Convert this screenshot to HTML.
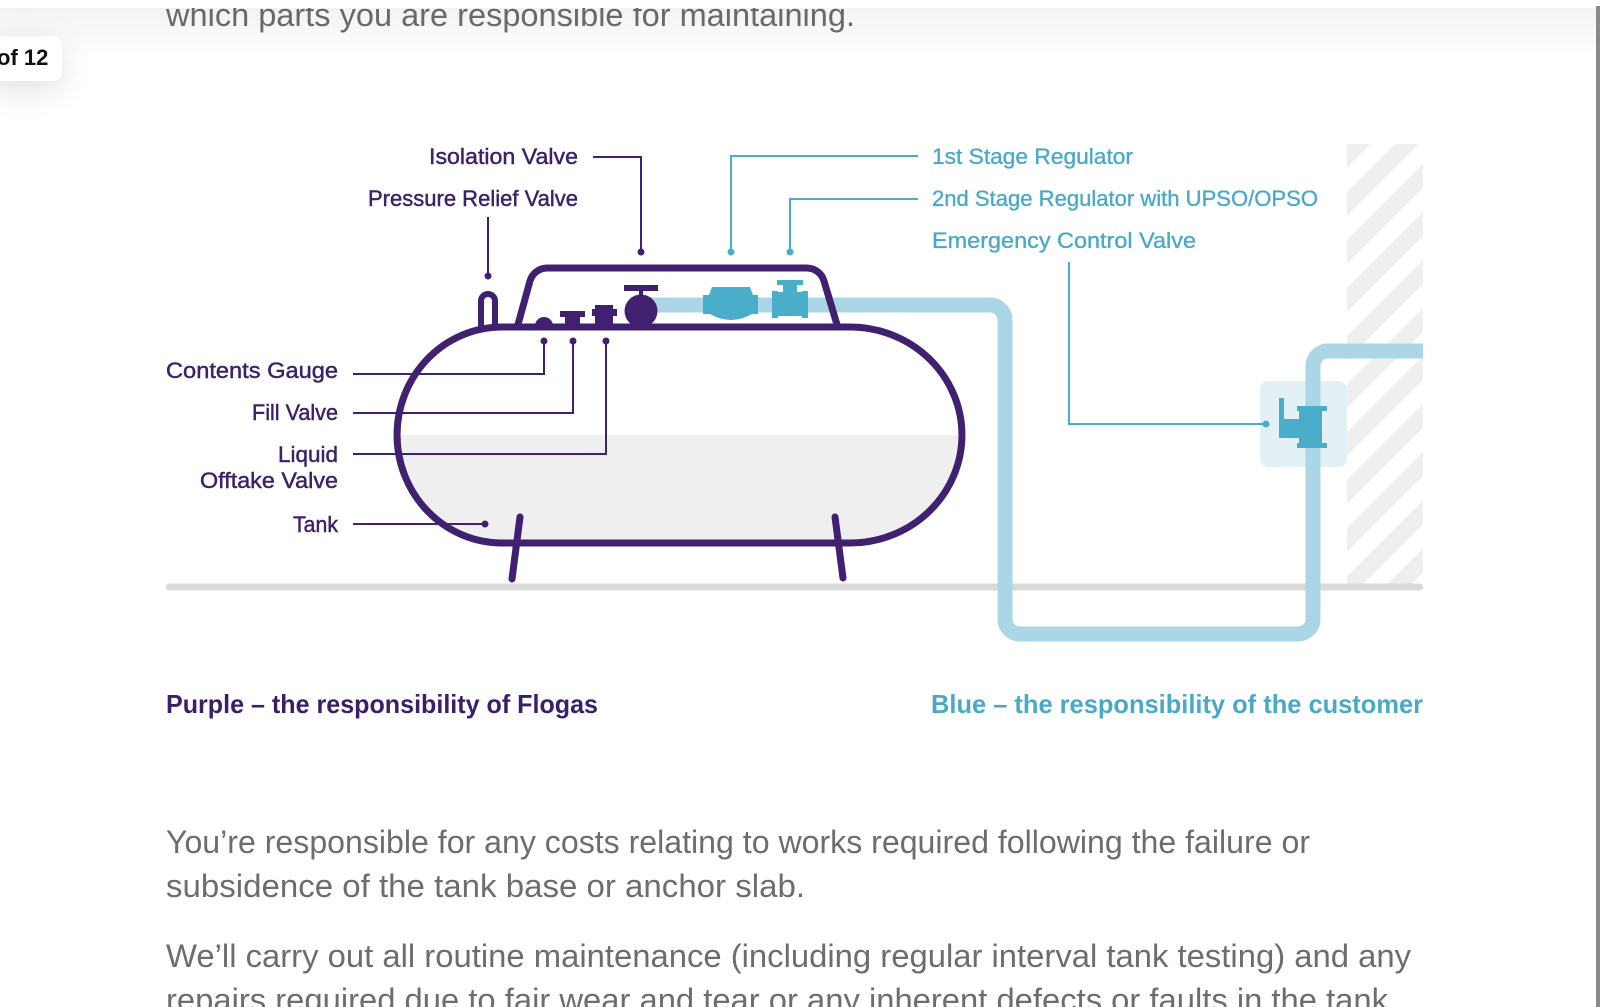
<!DOCTYPE html>
<html>
<head>
<meta charset="utf-8">
<style>
  html,body{margin:0;padding:0;background:#fff;}
  body{width:1600px;height:1007px;position:relative;overflow:hidden;font-family:"Liberation Sans",sans-serif;}
  svg{position:absolute;left:0;top:0;}
  .badge{position:absolute;left:-14px;top:36px;width:76px;height:45px;background:#fff;border-radius:9px;
    box-shadow:0 8px 32px rgba(0,0,0,0.13);}
  .badge span{position:absolute;left:11px;top:10px;font-weight:bold;font-size:22px;color:#111;line-height:24px;white-space:nowrap;}
</style>
</head>
<body>
<svg width="1600" height="1007" viewBox="0 0 1600 1007" xmlns="http://www.w3.org/2000/svg">
  <defs>
    <pattern id="hatch" width="34" height="34" patternUnits="userSpaceOnUse" patternTransform="rotate(45)">
      <rect x="0" y="0" width="17" height="34" fill="#efefef"/>
    </pattern>
    <linearGradient id="topshadow" x1="0" y1="0" x2="0" y2="1">
      <stop offset="0" stop-color="#000" stop-opacity="0.05"/>
      <stop offset="1" stop-color="#000" stop-opacity="0"/>
    </linearGradient>
  </defs>

  <!-- top paragraph remnant -->
  <text x="166" y="26" font-size="32" fill="#6d6d6d" textLength="689" lengthAdjust="spacingAndGlyphs" font-family="Liberation Sans, sans-serif">which parts you are responsible for maintaining.</text>

  <!-- hatched wall -->
  <rect x="1347" y="144" width="76" height="440" fill="url(#hatch)"/>

  <!-- ground -->
  <rect x="166" y="583.5" width="1257" height="7" rx="3.5" fill="#dadada"/>

  <!-- ECV box -->
  <rect x="1260" y="381" width="87" height="86" rx="8" fill="#e3f1f7"/>

  <!-- pipe -->
  <path d="M650,305 H990 A15,15 0 0 1 1005,320 V619 A15,15 0 0 0 1020,634 H1298 A15,15 0 0 0 1313,619 V366 A15,15 0 0 1 1328,351 H1423"
        fill="none" stroke="#abd6e6" stroke-width="15"/>

  <!-- tank liquid -->
  <path d="M397,435 A105,108 0 0 0 502,543 L850,543 A112,108 0 0 0 962,435 Z" fill="#efefef"/>

  <!-- tank outline -->
  <path d="M502,327 L850,327 A112,108 0 0 1 850,543 L502,543 A105,108 0 0 1 502,327 Z"
        fill="none" stroke="#3f2170" stroke-width="7"/>

  <!-- legs -->
  <line x1="520" y1="517" x2="512" y2="579" stroke="#3f2170" stroke-width="7" stroke-linecap="round"/>
  <line x1="835" y1="517" x2="843" y2="578" stroke="#3f2170" stroke-width="7" stroke-linecap="round"/>

  <!-- pressure relief valve bump -->
  <path d="M481,330 V301 A7,7 0 0 1 495,301 V328" fill="none" stroke="#3f2170" stroke-width="6"/>

  <!-- dome -->
  <path d="M517,328 L530,281 A18,18 0 0 1 547,268 L807,268 A18,18 0 0 1 824,281 L838,328"
        fill="none" stroke="#3f2170" stroke-width="7" stroke-linejoin="round"/>

  <!-- purple components -->
  <path d="M535,326 A9,9 0 0 1 553,326 Z" fill="#3f2170"/>
  <rect x="560" y="311" width="25" height="6" fill="#3f2170"/>
  <rect x="565" y="311" width="15" height="16" fill="#3f2170"/>
  <rect x="595" y="305" width="18" height="22" fill="#3f2170"/>
  <rect x="592" y="309" width="25" height="7" fill="#3f2170"/>
  <rect x="624" y="285" width="34" height="6" fill="#3f2170"/>
  <rect x="639" y="285" width="4" height="14" fill="#3f2170"/>
  <circle cx="641" cy="311" r="16.5" fill="#3f2170"/>

  <!-- blue components -->
  <path d="M712,287 L750,287 L753,295 L758,295 L758,314 L752,314 Q731,326 710,314 L703,314 L703,295 L709,295 Z" fill="#4aaecb"/>
  <rect x="777" y="280" width="26" height="5" fill="#4aaecb"/>
  <rect x="783" y="283" width="14" height="10" fill="#4aaecb"/>
  <rect x="777" y="292" width="26" height="24" fill="#4aaecb"/>
  <rect x="772" y="291" width="6" height="27" fill="#4aaecb"/>
  <rect x="802" y="291" width="6" height="27" fill="#4aaecb"/>

  <!-- ECV valve -->
  <rect x="1279" y="398" width="5" height="40" fill="#4aaecb"/>
  <rect x="1279" y="419" width="30" height="19" fill="#4aaecb"/>
  <rect x="1299" y="408" width="23" height="40" fill="#4aaecb"/>
  <rect x="1297" y="406" width="30" height="5" fill="#4aaecb"/>
  <rect x="1297" y="443" width="30" height="5" fill="#4aaecb"/>

  <!-- purple leaders -->
  <g fill="none" stroke="#3f2170" stroke-width="2">
    <path d="M593,157 H641 V252"/>
    <path d="M488,217 V276"/>
    <path d="M353,374 H544 V341"/>
    <path d="M353,413 H573 V341"/>
    <path d="M353,454 H606 V341"/>
    <path d="M353,524 H485"/>
  </g>
  <g fill="#3f2170">
    <circle cx="641" cy="252" r="3.5"/>
    <circle cx="488" cy="276" r="3.5"/>
    <circle cx="544" cy="341" r="3.5"/>
    <circle cx="573" cy="341" r="3.5"/>
    <circle cx="606" cy="341" r="3.5"/>
    <circle cx="485" cy="524" r="3.5"/>
  </g>

  <!-- blue leaders -->
  <g fill="none" stroke="#4aaecb" stroke-width="2">
    <path d="M918,156 H731 V252"/>
    <path d="M918,199 H790 V252"/>
    <path d="M1069,262 V424 H1266"/>
  </g>
  <g fill="#4aaecb">
    <circle cx="731" cy="252" r="3.5"/>
    <circle cx="790" cy="252" r="3.5"/>
    <circle cx="1266" cy="424" r="3.5"/>
  </g>

  <!-- purple labels -->
  <g font-family="Liberation Sans, sans-serif" font-size="22" fill="#3c2266" stroke="#3c2266" stroke-width="0.45">
    <text x="429" y="164" textLength="149" lengthAdjust="spacingAndGlyphs">Isolation Valve</text>
    <text x="368" y="206" textLength="210" lengthAdjust="spacingAndGlyphs">Pressure Relief Valve</text>
    <text x="166" y="378" textLength="172" lengthAdjust="spacingAndGlyphs">Contents Gauge</text>
    <text x="252" y="420" textLength="86" lengthAdjust="spacingAndGlyphs">Fill Valve</text>
    <text x="278" y="462" textLength="60" lengthAdjust="spacingAndGlyphs">Liquid</text>
    <text x="200" y="488" textLength="138" lengthAdjust="spacingAndGlyphs">Offtake Valve</text>
    <text x="293" y="532" textLength="45" lengthAdjust="spacingAndGlyphs">Tank</text>
  </g>

  <!-- blue labels -->
  <g font-family="Liberation Sans, sans-serif" font-size="22" fill="#4aaac6" stroke="#4aaac6" stroke-width="0.35">
    <text x="932" y="164" textLength="201" lengthAdjust="spacingAndGlyphs">1st Stage Regulator</text>
    <text x="932" y="206" textLength="386" lengthAdjust="spacingAndGlyphs">2nd Stage Regulator with UPSO/OPSO</text>
    <text x="932" y="248" textLength="264" lengthAdjust="spacingAndGlyphs">Emergency Control Valve</text>
  </g>

  <!-- legend -->
  <text x="166" y="713" font-family="Liberation Sans, sans-serif" font-weight="bold" font-size="26" fill="#3b2068" textLength="432" lengthAdjust="spacingAndGlyphs">Purple – the responsibility of Flogas</text>
  <text x="931" y="713" font-family="Liberation Sans, sans-serif" font-weight="bold" font-size="26" fill="#4aaac6" textLength="492" lengthAdjust="spacingAndGlyphs">Blue – the responsibility of the customer</text>

  <!-- paragraphs -->
  <g font-family="Liberation Sans, sans-serif" font-size="32" fill="#6d6d6d">
    <text x="166" y="853" textLength="1144" lengthAdjust="spacingAndGlyphs">You’re responsible for any costs relating to works required following the failure or</text>
    <text x="166" y="897" textLength="639" lengthAdjust="spacingAndGlyphs">subsidence of the tank base or anchor slab.</text>
    <text x="166" y="967" textLength="1245" lengthAdjust="spacingAndGlyphs">We’ll carry out all routine maintenance (including regular interval tank testing) and any</text>
    <text x="166" y="1011" textLength="1222" lengthAdjust="spacingAndGlyphs">repairs required due to fair wear and tear or any inherent defects or faults in the tank</text>
  </g>

  <!-- top header overlay + shadow -->
  <rect x="0" y="0" width="1600" height="8" fill="#fff"/>
  <rect x="0" y="8" width="1596" height="50" fill="url(#topshadow)"/>

  <!-- scrollbar -->
  <rect x="1596" y="6" width="4" height="1001" fill="#8a8a8a"/>
</svg>
<div class="badge"><span>of 12</span></div>
</body>
</html>
